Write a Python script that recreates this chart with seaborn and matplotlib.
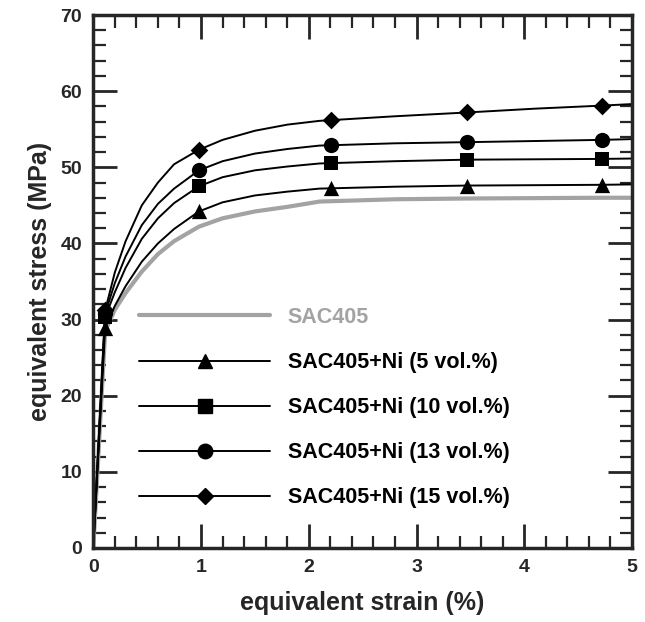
import matplotlib
matplotlib.use("Agg")
import matplotlib.pyplot as plt
from matplotlib.lines import Line2D
from matplotlib.ticker import MultipleLocator
import seaborn as sns
import pandas as pd

# ---- data ----
strain_curve = [0, 0.11, 0.2, 0.3, 0.45, 0.6, 0.75, 0.98, 1.2, 1.5, 1.8, 2.1, 2.8, 3.47, 4.1, 4.72, 5.0]
sac405 = [0, 28.5, 31.3, 33.5, 36.3, 38.6, 40.3, 42.2, 43.3, 44.2, 44.8, 45.5, 45.8, 45.9, 45.95, 46.0, 46.0]
ni5 = [0, 28.9, 31.8, 34.4, 37.6, 40.0, 41.9, 44.2, 45.4, 46.3, 46.8, 47.2, 47.45, 47.6, 47.65, 47.7, 47.75]
ni10 = [0, 30.3, 33.6, 36.8, 40.6, 43.3, 45.3, 47.5, 48.7, 49.6, 50.1, 50.5, 50.8, 51.0, 51.05, 51.1, 51.15]
ni13 = [0, 30.8, 34.8, 38.3, 42.4, 45.2, 47.2, 49.6, 50.8, 51.8, 52.4, 52.85, 53.15, 53.3, 53.45, 53.6, 53.7]
ni15 = [0, 31.2, 36.2, 40.3, 45.0, 48.0, 50.4, 52.3, 53.6, 54.8, 55.6, 56.1, 56.7, 57.2, 57.7, 58.1, 58.3]

strain_marker = [0.11, 0.98, 2.21, 3.47, 4.72]
ni5_pts = [28.9, 44.2, 47.3, 47.6, 47.7]
ni10_pts = [30.3, 47.5, 50.55, 51.0, 51.1]
ni13_pts = [30.8, 49.6, 52.96, 53.3, 53.6]
ni15_pts = [31.2, 52.3, 56.2, 57.2, 58.1]

labels = ["SAC405", "SAC405+Ni (5 vol.%)", "SAC405+Ni (10 vol.%)",
          "SAC405+Ni (13 vol.%)", "SAC405+Ni (15 vol.%)"]
x_ticks = [0, 1, 2, 3, 4, 5]
y_ticks = [0, 10, 20, 30, 40, 50, 60, 70]

# ---- style ----
sns.set_style("ticks")
plt.rcParams['font.family'] = ['Liberation Sans', 'DejaVu Sans']
plt.rcParams['font.weight'] = 'bold'

GRAY = "#a3a3a3"
curve_series = [sac405, ni5, ni10, ni13, ni15]
point_series = [None, ni5_pts, ni10_pts, ni13_pts, ni15_pts]
colors = [GRAY, "black", "black", "black", "black"]
widths = [3.0, 1.4, 1.4, 1.4, 1.4]
markers = [None, "^", "s", "o", "D"]
msizes = [0, 11, 10, 11, 9]

fig = plt.figure(figsize=(6.45, 6.22), dpi=100)
ax = fig.add_axes([93.3 / 645, 1 - 548 / 622, 538.7 / 645, 533 / 622])

for lab, ys, col, lw in zip(labels, curve_series, colors, widths):
    df = pd.DataFrame({"strain": strain_curve, "stress": ys})
    sns.lineplot(data=df, x="strain", y="stress", ax=ax, color=col, lw=lw,
                 sort=False, estimator=None, legend=False)

for lab, ys, m, ms in zip(labels, point_series, markers, msizes):
    if ys is None:
        continue
    dfp = pd.DataFrame({"strain": strain_marker, "stress": ys})
    sns.scatterplot(data=dfp, x="strain", y="stress", ax=ax, marker=m,
                    s=ms ** 2, color="black", edgecolor="black", linewidth=0,
                    legend=False, zorder=5)

ax.set_xlim(0, 5)
ax.set_ylim(0, 70)
ax.set_xticks(x_ticks)
ax.set_yticks(y_ticks)
ax.xaxis.set_minor_locator(MultipleLocator(0.2))
ax.yaxis.set_minor_locator(MultipleLocator(2))
ax.tick_params(which="both", direction="in", top=True, right=True,
               labelsize=14)
ax.tick_params(which="major", length=17, width=2.0, pad=8)
ax.tick_params(which="minor", length=9, width=1.6)
for sp in ax.spines.values():
    sp.set_visible(True)
    sp.set_linewidth(2.5)
for t in ax.get_xticklabels() + ax.get_yticklabels():
    t.set_fontweight("bold")

ax.set_xlabel("equivalent strain (%)", fontsize=18, fontweight="bold", labelpad=11)
ax.set_ylabel("equivalent stress (MPa)", fontsize=18, fontweight="bold", labelpad=6)

handles = []
for lab, col, lw, m, ms in zip(labels, colors, widths, markers, msizes):
    handles.append(Line2D([0], [0], color=col, lw=lw, marker=m,
                          markersize=ms * 0.95, markerfacecolor="black",
                          markeredgecolor="black"))
leg = ax.legend(handles, labels, loc="upper left",
                bbox_to_anchor=((139 - 93.3) / 538.7, (548 - 307) / 533),
                frameon=False, fontsize=15.5, handlelength=6.1,
                handletextpad=0.8, labelspacing=1.12, borderpad=0,
                borderaxespad=0, numpoints=1)
for txt, col in zip(leg.get_texts(), colors):
    txt.set_color(col)
    txt.set_fontweight("bold")

fig.savefig("out.png", dpi=100)
